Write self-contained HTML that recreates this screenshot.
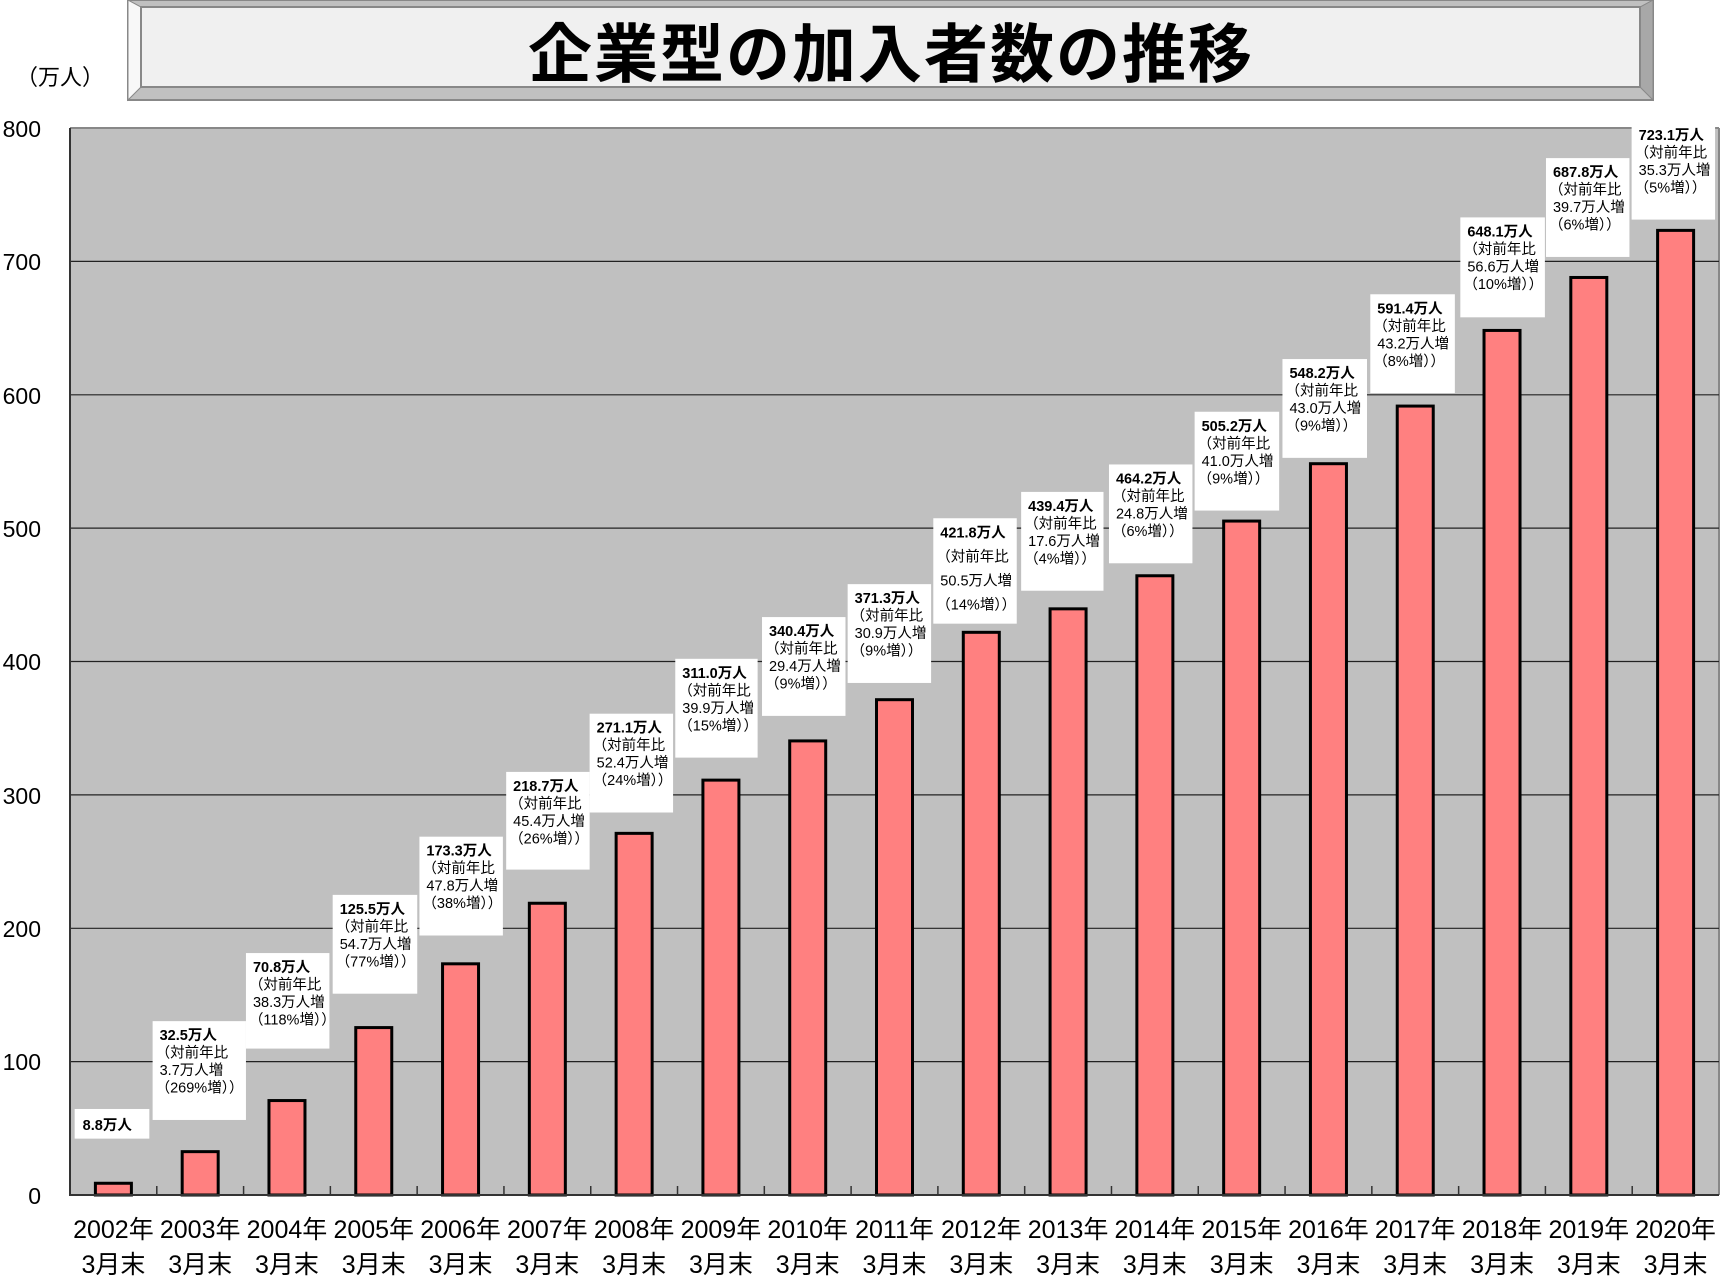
<!DOCTYPE html>
<html><head><meta charset="utf-8"><style>
html,body{margin:0;padding:0;background:#fff;}
svg{display:block;}
text{font-family:"Liberation Sans","Noto Sans CJK JP",sans-serif;}
</style></head><body>
<svg width="1722" height="1287" viewBox="0 0 1722 1287" xmlns="http://www.w3.org/2000/svg">
<rect x="128" y="0" width="1525" height="100" fill="#c0c0c0" stroke="#888" stroke-width="2"/>
<polygon points="128,0 141,7 141,87 128,100" fill="#f8f8f8" stroke="#888" stroke-width="1"/>
<polygon points="1653,0 1640,7 1640,87 1653,100" fill="#a8a8a8" stroke="#888" stroke-width="1"/>
<rect x="141" y="7" width="1499" height="80" fill="#f0f0f0" stroke="#888" stroke-width="2"/>
<text x="891" y="77" font-size="64" font-weight="bold" text-anchor="middle" letter-spacing="2" fill="#000">企業型の加入者数の推移</text>
<text x="16" y="85" font-size="22" fill="#000">（万人）</text>
<rect x="70" y="128" width="1649" height="1067" fill="#c0c0c0"/>
<line x1="70" y1="128" x2="1719" y2="128" stroke="#888" stroke-width="2"/>
<line x1="1719" y1="128" x2="1719" y2="1195" stroke="#888" stroke-width="2"/>
<g stroke="#222" stroke-width="1.2">
<line x1="70" y1="261.4" x2="1719" y2="261.4"/>
<line x1="70" y1="394.8" x2="1719" y2="394.8"/>
<line x1="70" y1="528.1" x2="1719" y2="528.1"/>
<line x1="70" y1="661.5" x2="1719" y2="661.5"/>
<line x1="70" y1="794.9" x2="1719" y2="794.9"/>
<line x1="70" y1="928.3" x2="1719" y2="928.3"/>
<line x1="70" y1="1061.6" x2="1719" y2="1061.6"/>
</g>
<g font-size="23" text-anchor="end" fill="#000">
<text x="41" y="137">800</text><text x="41" y="270">700</text><text x="41" y="404">600</text>
<text x="41" y="537">500</text><text x="41" y="670">400</text><text x="41" y="804">300</text>
<text x="41" y="937">200</text><text x="41" y="1070">100</text><text x="41" y="1204">0</text>
</g>
<g id="bars"></g>
<line x1="70" y1="128" x2="70" y2="1196" stroke="#333" stroke-width="2"/>
<line x1="69" y1="1195" x2="1719" y2="1195" stroke="#333" stroke-width="2"/>
<g id="ticks" stroke="#333" stroke-width="1.5"></g>
<g id="ann"></g>
<g id="xl" font-size="25" text-anchor="middle" fill="#000"></g>
</svg>
<script>
(function(){
var vals=[8.8,32.5,70.8,125.5,173.3,218.7,271.1,311.0,340.4,371.3,421.8,439.4,464.2,505.2,548.2,591.4,648.1,687.8,723.1];
var inc=[null,"3.7","38.3","54.7","47.8","45.4","52.4","39.9","29.4","30.9","50.5","17.6","24.8","41.0","43.0","43.2","56.6","39.7","35.3"];
var pct=[null,"269","118","77","38","26","24","15","9","9","14","4","6","9","9","8","10","6","5"];
var box=[[68,136,1010,1037],[139,224,930,1020],[224,300,868,955],[303,380,815,905],[382,458,762,852],[461,537,703,792],[537,613,650,740],[615,690,600,690],[694,770,562,652],[772,848,532,622],[850,926,472,568],[930,1005,448,538],[1010,1086,423,513],[1088,1165,375,465],[1168,1245,327,417],[1248,1325,268,358],[1330,1407,198,289],[1408,1484,144,234],[1486,1562,110,200]];
var NS="http://www.w3.org/2000/svg";
function el(t,a,p,txt){var e=document.createElementNS(NS,t);for(var k in a)e.setAttribute(k,a[k]);if(txt!=null)e.textContent=txt;p.appendChild(e);return e;}
var bars=document.getElementById('bars'),ticks=document.getElementById('ticks'),ann=document.getElementById('ann'),xl=document.getElementById('xl');
var cw=1649/19,z=1195,s=1.334,k=1.098;
for(var i=0;i<19;i++){
 var cx=70+cw*(i+0.5),bt0=z-vals[i]*s;
 el('rect',{x:cx-18,y:bt0,width:36,height:z-bt0,fill:'#ff8080',stroke:'#000','stroke-width':3},bars);
 if(i>0)el('line',{x1:70+cw*i,y1:1195,x2:70+cw*i,y2:1186},ticks);
 el('text',{x:cx,y:1238},xl,(2002+i)+"年");
 el('text',{x:cx,y:1273},xl,"3月末");
 var b=box[i],bl=b[0]*k,br=b[1]*k,bt=b[2]*k,bb=b[3]*k;
 el('rect',{x:bl,y:bt,width:br-bl,height:bb-bt,fill:'#fff'},ann);
 if(i==0){
  el('text',{x:bl+8,y:bt+21,'font-size':14.5,'font-weight':'bold'},ann,"8.8万人");
 } else {
  var lh=(i==10)?24:17.5;
  var y0=bt+19;
  el('text',{x:bl+7,y:y0,'font-size':14.5,'font-weight':'bold'},ann,vals[i].toFixed(1)+"万人");
  el('text',{x:bl+3,y:y0+lh,'font-size':14.5},ann,"（対前年比");
  el('text',{x:bl+7,y:y0+2*lh,'font-size':14.5},ann,inc[i]+"万人増");
  el('text',{x:bl+3,y:y0+3*lh,'font-size':14.5},ann,"（"+pct[i]+"%増））");
 }
}
})();
</script>
</body></html>
